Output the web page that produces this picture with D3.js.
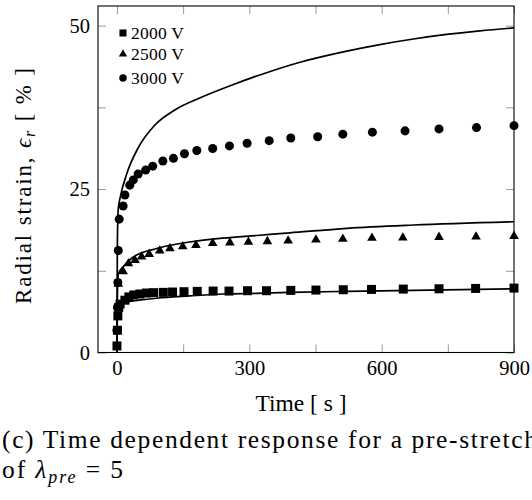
<!DOCTYPE html>
<html><head><meta charset="utf-8">
<script src="https://cdn.jsdelivr.net/npm/d3@7"></script>
<style>body{margin:0;background:#fff}svg{display:block}</style>
</head><body>
<svg id="c" width="532" height="500"></svg>
<script>
// ---- data ----
const seriesNames = ["2000 V", "2500 V", "3000 V"];
const xTicks = [0, 150, 300, 450, 600, 750, 900];
const xTickLabels = [0, 300, 600, 900];
const yTicks = [0, 12.5, 25, 37.5, 50];
const yTickLabels = [0, 25, 50];

// measured markers
const t2000 = [0, 1, 2, 4, 7, 18, 27, 38, 52, 67, 83, 105, 126, 152, 182, 218, 254, 296, 339, 394, 451, 513, 577, 649, 730, 813, 900];
const v2000 = [1.0, 3.4, 5.6, 6.9, 7.4, 8.0, 8.5, 8.8, 8.95, 9.1, 9.15, 9.2, 9.25, 9.3, 9.35, 9.4, 9.4, 9.45, 9.45, 9.5, 9.55, 9.6, 9.65, 9.7, 9.75, 9.8, 9.85];
const t2500 = [3, 14, 26, 41, 56, 73, 97, 120, 149, 179, 217, 256, 298, 341, 388, 451, 512, 578, 648, 730, 814, 900];
const v2500 = [10.5, 12.4, 13.6, 14.1, 14.65, 15.05, 15.55, 15.9, 16.2, 16.4, 16.7, 16.8, 16.9, 17.0, 17.1, 17.25, 17.35, 17.5, 17.55, 17.65, 17.7, 17.8];
const t3000 = [0, 1, 2, 3, 5, 14, 18, 29, 37, 48, 65, 81, 104, 128, 153, 181, 217, 255, 295, 345, 394, 455, 512, 579, 653, 730, 815, 900];
const v3000 = [3.4, 6.9, 10.7, 15.6, 20.4, 22.4, 24.1, 25.6, 26.4, 27.3, 27.9, 28.5, 29.3, 29.7, 30.4, 30.9, 31.2, 31.6, 32.0, 32.4, 32.8, 33.0, 33.4, 33.7, 33.9, 34.2, 34.4, 34.7];

// model curves
const ft2000 = [0, 0.5, 1, 3, 7, 20, 50, 90, 165, 241, 317, 392, 521, 672, 900];
const fv2000 = [0, 4.0, 5.3, 6.8, 7.3, 7.7, 8.0, 8.3, 8.65, 8.95, 9.05, 9.2, 9.35, 9.5, 9.75];
const ft2500 = [0, 0.5, 1, 2, 3, 14, 37, 90, 165, 241, 317, 392, 521, 672, 900];
const fv2500 = [0, 6.0, 9.0, 11.0, 12.1, 13.1, 14.6, 15.9, 16.9, 17.5, 17.9, 18.3, 19.0, 19.5, 20.0];
const ft3000 = [0, 0.5, 1, 2, 3, 7, 22, 48, 86, 131, 190, 264, 339, 415, 521, 596, 672, 747, 823, 900];
const fv3000 = [0, 12.0, 17.0, 20.5, 22.0, 23.6, 27.3, 31.3, 34.8, 37.1, 39.0, 41.0, 42.8, 44.4, 46.1, 47.1, 47.95, 48.65, 49.2, 49.65];

const captionLine1 = "(c) Time dependent response for a pre-stretch";

// ---- drawing ----
const svg = d3.select("#c");
const font = "'Liberation Serif', 'Times New Roman', serif";
const L = 98, R = 514, T = 6, B = 352.5;
const x = d3.scaleLinear().domain([-43, 900]).range([L, R]);
const y = d3.scaleLinear().domain([0, 53]).range([B, T]);

const tickCol = "#999";
const tl = 8;
function styleAxis(g) {
  g.attr("font-family", font).attr("font-size", 20);
  g.select(".domain").remove();
  g.selectAll(".tick line").attr("stroke", tickCol).attr("stroke-width", 1);
  g.selectAll(".tick text").attr("font-family", font).attr("font-size", 20.5).attr("fill", "#000");
}
svg.append("g").attr("transform", `translate(0,${B})`)
  .call(d3.axisBottom(x).tickValues(xTicks).tickSize(-tl).tickPadding(8)
    .tickFormat(d => xTickLabels.includes(d) ? d : ""))
  .call(styleAxis);
svg.append("g").attr("transform", `translate(0,${T})`)
  .call(d3.axisTop(x).tickValues(xTicks).tickSize(-tl).tickFormat(""))
  .call(styleAxis);
svg.append("g").attr("transform", `translate(${L},0)`)
  .call(d3.axisLeft(y).tickValues(yTicks).tickSize(-tl).tickPadding(8)
    .tickFormat(d => yTickLabels.includes(d) ? d : ""))
  .call(styleAxis);
svg.append("g").attr("transform", `translate(${R},0)`)
  .call(d3.axisRight(y).tickValues(yTicks).tickSize(-tl).tickFormat(""))
  .call(styleAxis);

svg.append("rect").attr("x", L).attr("y", T).attr("width", R - L).attr("height", B - T)
  .attr("fill", "none").attr("stroke", "#000").attr("stroke-width", 1.1);

const line = d3.line().x(d => x(d[0])).y(d => y(d[1])).curve(d3.curveMonotoneX);
const fits = [[ft2000, fv2000], [ft2500, fv2500], [ft3000, fv3000]];
fits.forEach(([ts, vs]) => {
  svg.append("path").datum(ts.map((t, i) => [t, vs[i]]))
    .attr("d", line).attr("fill", "none").attr("stroke", "#000").attr("stroke-width", 1.7);
});

const symSquare = d3.symbol().type(d3.symbolSquare).size(81);
const symTri = d3.symbol().type(d3.symbolTriangle).size(40);
const symCirc = d3.symbol().type(d3.symbolCircle).size(64);
const marks = [[t2000, v2000, symSquare], [t2500, v2500, symTri], [t3000, v3000, symCirc]];
marks.forEach(([ts, vs, sym]) => {
  svg.append("g").selectAll("path").data(ts.map((t, i) => [t, vs[i]])).join("path")
    .attr("d", sym).attr("transform", d => `translate(${x(d[0])},${y(d[1])})`).attr("fill", "#000");
});

// legend
const legY = [33, 54, 78];
const legSyms = [d3.symbol().type(d3.symbolSquare).size(50), d3.symbol().type(d3.symbolTriangle).size(30), d3.symbol().type(d3.symbolCircle).size(44)];
seriesNames.forEach((n, i) => {
  svg.append("path").attr("d", legSyms[i]).attr("transform", `translate(123,${legY[i]})`).attr("fill", "#000");
  svg.append("text").attr("x", 131).attr("y", legY[i] + 5.5).attr("font-family", font).attr("font-size", 17.5)
    .attr("textLength", 53).attr("lengthAdjust", "spacing").text(n);
});

// axis labels
svg.append("text").attr("x", 301).attr("y", 411).attr("text-anchor", "middle")
  .attr("font-family", font).attr("font-size", 23.5).text("Time [ s ]");
const yl = svg.append("text").attr("transform", "translate(31,186) rotate(-90)").attr("text-anchor", "middle")
  .attr("font-family", font).attr("font-size", 23)
  .attr("textLength", 236).attr("lengthAdjust", "spacing");
yl.append("tspan").text("Radial strain, ");
yl.append("tspan").attr("font-style", "italic").text("ϵ");
yl.append("tspan").attr("font-style", "italic").attr("font-size", 16).attr("dy", 4).text("r");
yl.append("tspan").attr("dy", -4).text(" [ % ]");

// caption
svg.append("text").attr("x", 2).attr("y", 448).attr("font-family", font).attr("font-size", 25.5)
  .attr("textLength", 535).attr("lengthAdjust", "spacing").text(captionLine1);
const c2 = svg.append("text").attr("x", 2).attr("y", 478).attr("font-family", font).attr("font-size", 25.5)
  .attr("textLength", 121).attr("lengthAdjust", "spacing");
c2.append("tspan").text("of ");
c2.append("tspan").attr("font-style", "italic").text("λ");
c2.append("tspan").attr("font-style", "italic").attr("font-size", 18).attr("dy", 5).text("pre");
c2.append("tspan").attr("dy", -5).text(" = 5");
</script>
</body></html>
